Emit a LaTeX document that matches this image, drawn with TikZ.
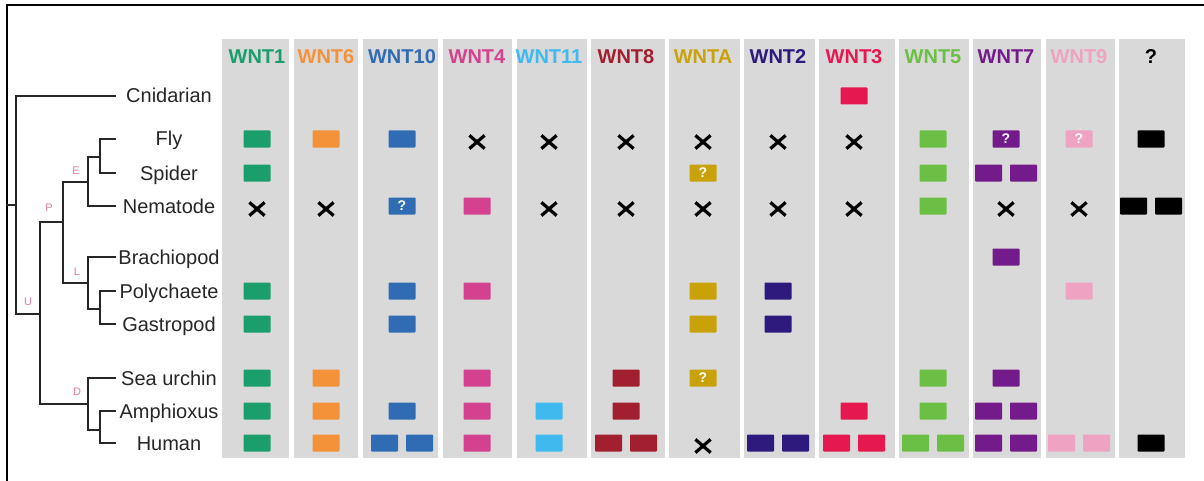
\documentclass[tikz,border=0pt]{standalone}
\usepackage{fontspec}
\setmainfont{Liberation Sans}
\usepackage{xcolor}
\usepackage{tikz}
\usetikzlibrary{shapes.misc}

\definecolor{g1}{HTML}{1A9E6C}
\definecolor{g2}{HTML}{F39239}
\definecolor{g3}{HTML}{2F6CB3}
\definecolor{g4}{HTML}{D4418E}
\definecolor{g5}{HTML}{3FB9EE}
\definecolor{g6}{HTML}{A21F2F}
\definecolor{g7}{HTML}{C9A20A}
\definecolor{g8}{HTML}{2E1A7C}
\definecolor{g9}{HTML}{E5194F}
\definecolor{g10}{HTML}{6CBF45}
\definecolor{g11}{HTML}{731B8A}
\definecolor{g12}{HTML}{EFA2C2}
\definecolor{g13}{HTML}{000000}
\definecolor{lanebg}{HTML}{D9D9D9}
\definecolor{cladepink}{HTML}{E27AA2}

\begin{document}
\begin{tikzpicture}[
    x=0.5pt, y=-0.5pt,
    lane/.style={fill=lanebg},
    head/.style={font=\bfseries\fontsize{10}{12}\selectfont, inner sep=0, anchor=base},
    taxon/.style={font=\fontsize{10}{12}\selectfont, text=black!85, inner sep=0, anchor=base},
    clade/.style={font=\fontsize{5.5}{6}\selectfont, text=cladepink, inner sep=0},
    branch/.style={line width=1.1pt, draw=black!85, line cap=rect},
    frame/.style={line width=1pt, draw=black},
    gene/.style={rectangle, fill=#1, minimum width=13.5pt, minimum height=8.5pt, inner sep=0, rounded corners=0.4pt},
    maybe/.style={gene=#1, text=white, font=\bfseries\fontsize{7}{7}\selectfont},
    lost/.style={cross out, draw=black, line width=1.6pt, minimum width=6pt, minimum height=5pt, inner sep=0}
]
\useasboundingbox (0,0) rectangle (1204,481);

% outer frame
\draw[frame] (7,481) -- (7,5) -- (1204,5);

% gene lanes and headers
\foreach \c/\name/\xl/\xr/\xc in {1/WNT1/222/289/257, 2/WNT6/294/358/326, 3/WNT10/363/438/402,
    4/WNT4/443/512/477, 5/WNT11/517/587/549, 6/WNT8/591/665/626, 7/WNTA/669/740/703,
    8/WNT2/744/815/778, 9/WNT3/819/895/854, 10/WNT5/899/969/933, 11/WNT7/973/1041/1006,
    12/WNT9/1046/1115/1079, 13/?/1119/1185/1151} {
  \fill[lane] (\xl,39) rectangle (\xr,458);
  \coordinate (c\c) at (\xc,0);
  \node[head, text=g\c] (h\c) at (\xc,64) {\name};
}

% taxa
\foreach \r/\name/\y in {1/Cnidarian/96, 2/Fly/139, 3/Spider/173, 4/Nematode/206,
    5/Brachiopod/257, 6/Polychaete/291, 7/Gastropod/324, 8/Sea urchin/378,
    9/Amphioxus/411, 10/Human/443} {
  \coordinate (r\r) at (0,\y);
  \coordinate (t\r) at (115,\y);
  \node[taxon] (n\r) at (169,\y+7) {\name};
}

% tree
\coordinate (stem) at (7,205);
\coordinate (root) at (16,205);
\coordinate (nU) at (40,314);
\coordinate (nP) at (63,222);
\coordinate (nE) at (88,182);
\coordinate (nFS) at (100,157);
\coordinate (nL) at (88,283);
\coordinate (nPG) at (100,309);
\coordinate (nD) at (88,404);
\coordinate (nAH) at (100,430);

\draw[branch] (stem) -- (root);
\draw[branch] (root) |- (t1);
\draw[branch] (root) |- (nU);
\draw[branch] (nU) |- (nP);
\draw[branch] (nU) |- (nD);
\draw[branch] (nP) |- (nE);
\draw[branch] (nP) |- (nL);
\draw[branch] (nE) |- (nFS);
\draw[branch] (nE) |- (t4);
\draw[branch] (nFS) |- (t2);
\draw[branch] (nFS) |- (t3);
\draw[branch] (nL) |- (t5);
\draw[branch] (nL) |- (nPG);
\draw[branch] (nPG) |- (t6);
\draw[branch] (nPG) |- (t7);
\draw[branch] (nD) |- (t8);
\draw[branch] (nD) |- (nAH);
\draw[branch] (nAH) |- (t9);
\draw[branch] (nAH) |- (t10);

\node[clade] (lU) at (28,302) {U};
\node[clade] (lP) at (49,208) {P};
\node[clade] (lE) at (76,171) {E};
\node[clade] (lL) at (77,272) {L};
\node[clade] (lD) at (77,392) {D};

% single genes
\foreach \r/\c in {1/9, 2/1, 2/2, 2/3, 2/10, 2/13, 3/1, 3/10, 4/4, 4/10, 5/11,
    6/1, 6/3, 6/4, 6/7, 6/8, 6/12, 7/1, 7/3, 7/7, 7/8,
    8/1, 8/2, 8/4, 8/6, 8/10, 8/11, 9/1, 9/2, 9/3, 9/4, 9/5, 9/6, 9/9, 9/10,
    10/1, 10/2, 10/4, 10/5, 10/13}
  \node[gene=g\c] (b\r-\c) at (c\c |- r\r) {};

% uncertain genes
\foreach \r/\c in {2/11, 2/12, 3/7, 4/3, 8/7}
  \node[maybe=g\c] (q\r-\c) at (c\c |- r\r) {?};

% duplicated genes
\foreach \r/\c in {3/11, 4/13, 9/11, 10/3, 10/6, 10/8, 10/9, 10/10, 10/11, 10/12} {
  \node[gene=g\c, xshift=-8.75pt] (pa\r-\c) at (c\c |- r\r) {};
  \node[gene=g\c, xshift=8.75pt] (pb\r-\c) at (c\c |- r\r) {};
}

% gene losses
\foreach \r/\c in {2/4, 2/5, 2/6, 2/7, 2/8, 2/9, 4/1, 4/2, 4/5, 4/6, 4/7, 4/8, 4/9,
    4/11, 4/12, 10/7}
  \node[lost, yshift=-1.5pt] (x\r-\c) at (c\c |- r\r) {};
\end{tikzpicture}
\end{document}
